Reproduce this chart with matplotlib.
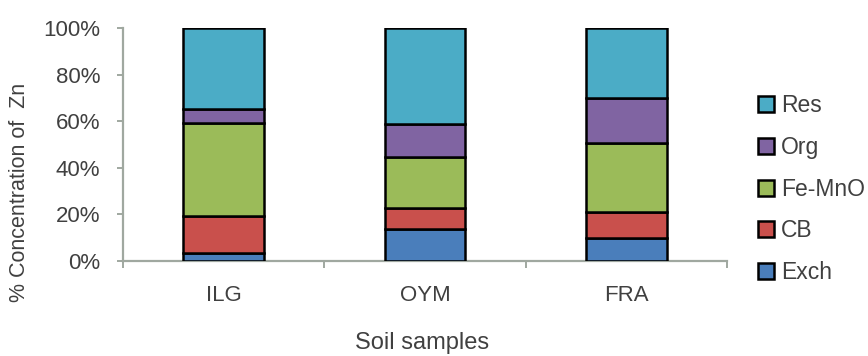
import numpy as np
import matplotlib
matplotlib.use('Agg')
import matplotlib.pyplot as plt
from matplotlib.patches import Patch

plt.rcParams['font.family'] = ['Liberation Sans', 'DejaVu Sans']

# data (% of total Zn)
samples = ['ILG', 'OYM', 'FRA']
fractions = ['Exch', 'CB', 'Fe-MnO', 'Org', 'Res']
exch = [3.5, 13.7, 10.0]
cb = [15.8, 9.0, 11.0]
femno = [40.0, 22.0, 29.6]
org = [6.0, 14.0, 19.4]
res = [34.7, 41.3, 30.0]
colors = ['#4a7ebb', '#c9504c', '#9bbb59', '#8064a2', '#4bacc6']

txt = '#404040'
fig = plt.figure(figsize=(8.68, 3.56), dpi=100)
ax = fig.add_axes([123/868, 1-261/356, 604/868, 233/356])

x = np.arange(len(samples))
bottom = np.zeros(len(samples))
for vals, col in zip([exch, cb, femno, org, res], colors):
    ax.bar(x, vals, width=0.4, bottom=bottom, color=col, edgecolor='black',
           linewidth=1.8, zorder=3)
    bottom += np.array(vals)

ax.set_xlim(-0.5, 2.5)
ax.set_ylim(0, 100)
ax.set_yticks(np.arange(0, 101, 20))
ax.set_yticklabels(['%d%%' % v for v in range(0, 101, 20)])
ax.set_xticks(x)
ax.set_xticklabels(samples)
ax.set_xticks([-0.5, 0.5, 1.5, 2.5], minor=True)

for s in ['top', 'right']:
    ax.spines[s].set_visible(False)
for s in ['left', 'bottom']:
    ax.spines[s].set_color('#a0a8a0')
    ax.spines[s].set_linewidth(1.6)

ax.tick_params(axis='y', length=4.5, width=1.4, color='#a0a8a0', pad=12,
               labelsize=16, labelcolor=txt)
ax.tick_params(axis='x', which='major', length=0, pad=17, labelsize=16,
               labelcolor=txt)
ax.tick_params(axis='x', which='minor', length=5, width=1.4, color='#a0a8a0')

fig.text(20/868, 1-192/356, '% Concentration of  Zn', rotation=90,
         ha='center', va='center', fontsize=15.5, color=txt)
fig.text(422/868, 2/356, 'Soil samples', ha='center', va='bottom',
         fontsize=17, color=txt)

handles = [Patch(facecolor=c, edgecolor='black', linewidth=1.8) for c in colors]
leg = fig.legend(handles[::-1], fractions[::-1], loc='upper left',
                 bbox_to_anchor=(758/868, 1-94/356), frameon=False,
                 fontsize=16.5, handlelength=0.7, handleheight=0.7,
                 handletextpad=0.3, labelspacing=0.82, borderaxespad=0,
                 borderpad=0)
for t in leg.get_texts():
    t.set_color(txt)

fig.savefig('out.png', dpi=100)
